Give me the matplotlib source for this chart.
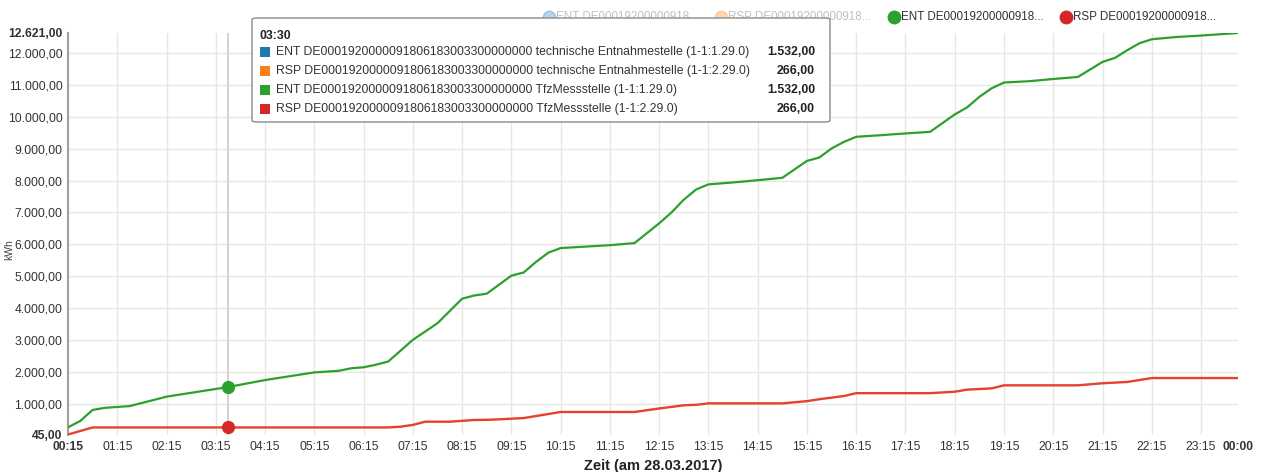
import matplotlib
matplotlib.use("Agg")
import matplotlib.pyplot as plt
from matplotlib.patches import FancyBboxPatch, Rectangle
from matplotlib.lines import Line2D

plt.rcParams['font.family'] = ['Liberation Sans', 'DejaVu Sans']

# data (hours of 28.03.2017, cumulative kWh)
ent_hours = [0.25, 0.5, 0.75, 1.0, 1.5, 2.0, 2.25, 3.5, 4.25, 5.25, 5.75, 6.0, 6.25, 6.5, 6.75,
             7.25, 7.75, 8.25, 8.5, 8.75, 9.25, 9.5, 9.75, 10.0, 10.25, 10.75, 11.25, 11.75,
             12.25, 12.5, 12.75, 13.0, 13.25, 13.75, 14.25, 14.75, 15.25, 15.5, 15.75, 16.0,
             16.25, 16.75, 17.25, 17.75, 18.25, 18.5, 18.75, 19.0, 19.25, 19.75, 20.25, 20.75,
             21.25, 21.5, 21.75, 22.0, 22.25, 22.75, 23.25, 24.0]
ent_values = [270, 470, 815, 880, 935, 1130, 1230, 1532, 1750, 1990, 2040, 2120, 2150, 2230, 2330,
              3010, 3530, 4300, 4400, 4455, 5020, 5120, 5450, 5740, 5885, 5930, 5975, 6040,
              6660, 7000, 7400, 7720, 7880, 7940, 8010, 8085, 8615, 8720, 9005, 9210,
              9370, 9420, 9475, 9525, 10070, 10290, 10620, 10890, 11070, 11110, 11180, 11245,
              11715, 11840, 12080, 12300, 12425, 12496, 12540, 12621]

rsp_hours = [0.25, 0.75, 6.75, 7.0, 7.25, 7.5, 8.0, 8.5, 8.75, 9.0, 9.5, 10.25, 11.75, 12.25,
             12.5, 12.75, 13.0, 13.25, 14.75, 15.25, 15.5, 15.75, 16.0, 16.25, 17.75, 18.25,
             18.5, 19.0, 19.25, 20.75, 21.25, 21.75, 22.25, 24.0]
rsp_values = [45, 266, 266, 290, 345, 446, 446, 500, 505, 520, 560, 750, 750, 860,
              910, 960, 975, 1020, 1020, 1090, 1150, 1200, 1250, 1340, 1340, 1385,
              1450, 1490, 1585, 1585, 1650, 1690, 1813, 1813]

hover_hour = 3.5
hover_label = "03:30"
series_names = ["ENT DE0001920000091806183003300000000 technische Entnahmestelle (1-1:1.29.0)",
                "RSP DE0001920000091806183003300000000 technische Entnahmestelle (1-1:2.29.0)",
                "ENT DE0001920000091806183003300000000 TfzMessstelle (1-1:1.29.0)",
                "RSP DE0001920000091806183003300000000 TfzMessstelle (1-1:2.29.0)"]
hover_values = [1532, 266, 1532, 266]
legend_names = ["ENT DE00019200000918...", "RSP DE00019200000918...",
                "ENT DE00019200000918...", "RSP DE00019200000918..."]
legend_active = [False, False, True, True]
colors = ["#1f77b4", "#ff7f0e", "#2ca02c", "#d62728"]

y_min, y_max = 45, 12621
x_ticks = [0.25 + k for k in range(24)]
x_labels = ["%02d:15" % k for k in range(24)]


def de_fmt(v):
    s = "{:,.2f}".format(v)
    return s.replace(",", "X").replace(".", ",").replace("X", ".")


W, H = 1264, 472
fig = plt.figure(figsize=(W / 100, H / 100), dpi=100)
ax = fig.add_axes([68 / W, 1 - 434.5 / H, (1238 - 68) / W, (434.5 - 33) / H])


def px(x, y):
    return x / W, 1 - y / H


ax.plot(ent_hours, ent_values, color=colors[2], lw=1.6, zorder=3)
ax.plot(rsp_hours, rsp_values, color="#e5412d", lw=1.7, zorder=3)

# hover guide + points
ax.axvline(hover_hour, color="#cfcfcf", lw=1.3, zorder=2)
ax.plot([hover_hour], [hover_values[2]], "o", color=colors[2], ms=8.5, zorder=4)
ax.plot([hover_hour], [hover_values[3]], "o", color=colors[3], ms=8.5, zorder=4)

ax.set_xlim(0.25, 24)
ax.set_ylim(y_min, y_max)

ax.set_yticks(range(1000, 13000, 1000))
ax.set_yticklabels([de_fmt(v) for v in range(1000, 13000, 1000)])
ax.set_yticks([y_min, y_max], minor=True)
ax.set_yticklabels([de_fmt(y_min), de_fmt(y_max)], minor=True, fontweight="bold")

ax.set_xticks(x_ticks)
ax.set_xticklabels(x_labels)
ax.get_xticklabels()[0].set_fontweight("bold")
ax.set_xticks([24], minor=True)
ax.set_xticklabels(["00:00"], minor=True, fontweight="bold")

ax.tick_params(axis="both", which="both", length=0, labelsize=8.7, labelcolor="#333333")
ax.tick_params(axis="y", which="both", pad=4)
ax.tick_params(axis="x", which="both", pad=5)
ax.grid(True, which="major", color="#e6e6e6", lw=1)
ax.set_axisbelow(True)
for s in ["top", "right", "bottom"]:
    ax.spines[s].set_visible(False)
ax.spines["left"].set_color("#a0a0a0")
ax.spines["left"].set_linewidth(1.5)

ax.set_xlabel("Zeit (am 28.03.2017)", fontsize=10.5, fontweight="bold", color="#222222", labelpad=4)
fig.text(9 / W, 1 - 250 / H, "kWh", rotation=90, fontsize=7.5, color="#444444",
         ha="center", va="center")

# legend (top right)
leg_x = [549, 721, 894, 1066]
for i in range(4):
    alpha = 1.0 if legend_active[i] else 0.3
    fig.add_artist(Line2D([leg_x[i] / W], [1 - 17 / H], marker="o", ms=9, color=colors[i],
                          alpha=alpha, transform=fig.transFigure))
    fig.text((leg_x[i] + 7) / W, 1 - 17 / H, legend_names[i], fontsize=8.4,
             color="#333333", alpha=alpha, va="center", ha="left")

# tooltip
box = FancyBboxPatch(px(252, 122), (830 - 252) / W, (122 - 18) / H,
                     boxstyle="round,pad=0,rounding_size=0.004", transform=fig.transFigure,
                     facecolor="white", edgecolor="#8a8a8a", lw=1.0, zorder=10)
fig.add_artist(box)
fig.text(*px(260, 36), hover_label, fontsize=8.8, fontweight="bold", color="#222222",
         va="center", ha="left", zorder=11)
row_y = [52, 71, 90, 109]
for i in range(4):
    fig.add_artist(Rectangle(px(260, row_y[i] + 5), 10 / W, 10 / H, transform=fig.transFigure,
                             facecolor=colors[i], edgecolor="none", zorder=11))
    fig.text(*px(276, row_y[i]), series_names[i], fontsize=8.85, color="#333333",
             va="center", ha="left", zorder=11)
    fig.text(*px(815, row_y[i]), de_fmt(hover_values[i]), fontsize=8.85, fontweight="bold",
             color="#222222", va="center", ha="right", zorder=11)

fig.savefig("out.png", dpi=100)
